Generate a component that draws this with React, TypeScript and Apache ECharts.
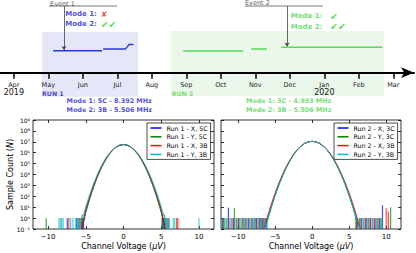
import React, { useEffect, useRef } from 'react';
import * as echarts from 'echarts';

// ---------- timeline data ----------
const months = ['Apr', 'May', 'Jun', 'Jul', 'Aug', 'Sep', 'Oct', 'Nov', 'Dec', 'Jan', 'Feb', 'Mar'];
const yearTicks = [0, 9];
const yearNames = ['2019', '2020'];

// x: months since Apr 2019, y: trace level
const run1TraceA = [[1.14, 22.0], [2.56, 22.0]];
const run1TraceB = [[2.59, 23.7], [3.23, 23.7], [3.28, 25.6], [3.34, 28.2], [3.47, 28.2]];
const run2TraceA = [[4.91, 21.7], [6.65, 21.7]];
const run2TraceB = [[6.88, 23.7], [7.34, 23.7]];
const run2TraceC = [[7.75, 25.4], [10.68, 25.4]];
const run1Span = [0.82, 3.6, 40.7, -24];
const run2Span = [4.56, 10.73, 41.7, -23.3];
const event1Bar = [[1.02, 66.7], [2.99, 66.7]];
const event1Arrow = [[1.455, 66.7], [1.455, 22.8]];
const event2Bar = [[6.7, 66.7], [8.96, 66.7]];
const event2Arrow = [[7.92, 66.7], [7.92, 26.3]];

// ---------- histogram data ----------
const xTickValues = [-10, -5, 0, 5, 10];
const xTickLabels = ['\u221210', '\u22125', '0', '5', '10'];
const yTickLabels = ['10\u207b\u00b9', '10\u2070', '10\u00b9', '10\u00b2', '10\u00b3', '10\u2074', '10\u2075', '10\u2076', '10\u2077', '10\u2078', '10\u2079'];

const run1Names = ['Run 1 - X, 5C', 'Run 1 - Y, 5C', 'Run 1 - X, 3B', 'Run 1 - Y, 3B'];
const run2Names = ['Run 2 - X, 3C', 'Run 2 - Y, 3C', 'Run 2 - X, 3B', 'Run 2 - Y, 3B'];
const colors = ['#0000ff', '#008000', '#ff0000', '#00bfbf'];

const xLeft = [-6, -5.5, -5, -4.5, -4, -3.5, -3, -2.5, -2, -1.5, -1, -0.5, 0, 0.5, 1, 1.5, 2, 2.5, 3, 3.5, 4, 4.5, 5, 5.5, 6];
const run1Blue = [null, 0.1, 5.6, 78, 810, 6500, 3.9e4, 1.8e5, 6.2e5, 1.6e6, 3.2e6, 4.9e6, 5.6e6, 4.9e6, 3.2e6, 1.6e6, 6.2e5, 1.8e5, 3.9e4, 6500, 810, 78, 5.6, 0.1, null];
const run1Green = [null, 0.1, 3.2, 49, 560, 4900, 3.2e4, 1.5e5, 5.6e5, 1.5e6, 3.2e6, 4.9e6, 5.6e6, 4.9e6, 3.2e6, 1.5e6, 5.6e5, 1.5e5, 3.2e4, 4900, 560, 49, 3.2, 0.1, null];
const run1Red = [null, 0.1, 6.3, 85, 870, 6800, 4.1e4, 1.8e5, 6.3e5, 1.6e6, 3.2e6, 4.9e6, 5.6e6, 4.9e6, 3.2e6, 1.6e6, 6.3e5, 1.8e5, 4.1e4, 6800, 870, 85, 6.3, 0.1, null];
const run1Cyan = [0.1, 0.7, 11, 135, 1260, 9100, 5.0e4, 2.1e5, 6.9e5, 1.7e6, 3.3e6, 4.9e6, 5.6e6, 4.9e6, 3.3e6, 1.7e6, 6.9e5, 2.1e5, 5.0e4, 9100, 1260, 135, 11, 0.7, 0.1];

const xRight = [-6.5, -6, -5.5, -5, -4.5, -4, -3.5, -3, -2.5, -2, -1.5, -1, -0.5, 0, 0.5, 1, 1.5, 2, 2.5, 3, 3.5, 4, 4.5, 5, 5.5, 6, 6.5];
const run2Blue = [0.1, 1, 13, 140, 1200, 8100, 4.5e4, 1.9e5, 6.8e5, 1.9e6, 4.1e6, 7.1e6, 1.0e7, 1.1e7, 1.0e7, 7.1e6, 4.1e6, 1.9e6, 6.8e5, 1.9e5, 4.5e4, 8100, 1200, 140, 13, 1, 0.1];
const run2Green = [0.1, 0.7, 10, 110, 1000, 7100, 4.0e4, 1.8e5, 6.3e5, 1.8e6, 4.0e6, 7.1e6, 1.0e7, 1.1e7, 1.0e7, 7.1e6, 4.0e6, 1.8e6, 6.3e5, 1.8e5, 4.0e4, 7100, 1000, 110, 10, 0.7, 0.1];
const run2Red = [0.1, 1.6, 20, 200, 1600, 1.0e4, 5.2e4, 2.2e5, 7.2e5, 1.95e6, 4.2e6, 7.2e6, 1.0e7, 1.1e7, 1.0e7, 7.2e6, 4.2e6, 1.95e6, 7.2e5, 2.2e5, 5.2e4, 1.0e4, 1600, 200, 20, 1.6, 0.1];
const run2Cyan = [0.1, 0.83, 11.5, 126, 1100, 7600, 4.2e4, 1.9e5, 6.5e5, 1.8e6, 4.0e6, 7.1e6, 1.0e7, 1.1e7, 1.0e7, 7.1e6, 4.0e6, 1.8e6, 6.5e5, 1.9e5, 4.2e4, 7600, 1100, 126, 11.5, 0.83, 0.1];

// isolated tail counts [voltage, count]
const run1BlueTail = [[-7.45, 1], [-6.2, 1], [-5.45, 1], [-5.3, 1], [5.2, 1], [5.4, 1], [5.6, 1]];
const run1GreenTail = [[-10.25, 1], [-6.0, 1], [-5.65, 1], [-5.5, 2], [5.1, 1], [5.3, 1], [5.45, 2]];
const run1RedTail = [[-7.25, 1], [-5.85, 1], [-5.55, 1], [5.8, 1], [6.0, 1], [7.05, 1], [7.2, 1]];
const run1CyanTail = [[-8.55, 1], [-8.35, 1], [-8.2, 1], [-8.0, 1], [-7.0, 1], [-6.7, 1], [-6.35, 1], [-6.1, 1], [-5.9, 1], [-5.7, 1], [5.5, 1], [5.7, 1], [5.9, 1], [6.1, 1], [6.6, 1], [6.8, 1], [10.0, 1]];

const run2BlueTail = [[-12.1, 1], [-11.3, 9], [-10.6, 1], [-9.9, 1], [-9.2, 1], [-8.6, 1], [-8.0, 1], [-7.5, 1], [-7.0, 1], [-6.6, 1], [-6.1, 1], [6.1, 1], [6.7, 1], [7.3, 1], [7.9, 1], [8.5, 1], [9.1, 1], [9.5, 15]];
const run2GreenTail = [[-12.0, 1], [-11.6, 1], [-10.5, 8], [-10.2, 1], [-9.6, 1], [-9.0, 1], [-8.4, 1], [-7.8, 1], [-7.3, 1], [-6.8, 1], [-6.4, 1], [5.9, 1], [6.4, 1], [7.0, 1], [7.6, 1], [8.2, 1], [8.8, 1], [9.3, 1], [10.6, 10]];
const run2RedTail = [[-11.9, 1], [-11.1, 1], [-10.8, 1], [-10.0, 1], [-9.4, 1], [-8.8, 1], [-8.2, 1], [-7.6, 1], [-7.1, 1], [-6.7, 1], [-6.3, 1], [6.0, 1], [6.6, 1], [7.2, 1], [7.8, 1], [8.4, 1], [9.0, 1], [10.0, 8], [10.3, 4]];
const run2CyanTail = [[-12.2, 1], [-11.8, 1], [-11.4, 1], [-10.9, 1], [-10.4, 1], [-9.8, 1], [-9.3, 1], [-8.9, 1], [-8.5, 1], [-8.1, 1], [-7.7, 1], [-7.2, 1], [-6.9, 1], [-6.5, 1], [-6.2, 1], [6.2, 1], [6.5, 1], [6.9, 1], [7.5, 1], [8.1, 1], [8.7, 1], [9.2, 1], [9.4, 1]];

const BLUE = '#2020dd';
const GREEN = '#4cd64c';
const CHECK = '#2ad42a';
const FONT = 'DejaVu Sans';

const run1Curves = [run1Blue, run1Green, run1Red, run1Cyan];
const run2Curves = [run2Blue, run2Green, run2Red, run2Cyan];
const run1Tails = [run1BlueTail, run1GreenTail, run1RedTail, run1CyanTail];
const run2Tails = [run2BlueTail, run2GreenTail, run2RedTail, run2CyanTail];

// timeline series use this axis pair (grid 3, Apr..Mar)
const TX = 5;
const TY = 5;

function toPairs(xs: number[], ys: (number | null)[]) {
  const out: number[][] = [];
  xs.forEach((x, i) => {
    const v = ys[i];
    if (v != null) out.push([x, v]);
  });
  return out;
}

function spikeRender(color: string) {
  return (params: any, api: any) => {
    const x = api.value(0);
    const n = api.value(1);
    const top = api.coord([x, n]);
    const bot = api.coord([x, 0.1]);
    return {
      type: 'rect',
      shape: { x: top[0] - 0.6, y: top[1], width: 1.2, height: Math.max(0, bot[1] - top[1]) },
      style: { fill: color, opacity: 0.7 },
    };
  };
}

const spanColors = ['#e5e7f8', '#ebf7ea'];
function spanRender(params: any, api: any) {
  const a = api.coord([api.value(0), api.value(2)]);
  const b = api.coord([api.value(1), api.value(3)]);
  return {
    type: 'rect',
    shape: { x: a[0], y: a[1], width: b[0] - a[0], height: b[1] - a[1] },
    style: { fill: spanColors[params.dataIndex] },
  };
}

const annotRich = {
  e: { fontFamily: FONT, fontSize: 6.5, color: '#222' },
  b: { fontFamily: FONT, fontSize: 7, fontWeight: 'bold', color: BLUE },
  g: { fontFamily: FONT, fontSize: 7, fontWeight: 'bold', color: GREEN },
  bs: { fontFamily: FONT, fontSize: 6.4, fontWeight: 'bold', color: BLUE },
  gs: { fontFamily: FONT, fontSize: 6.4, fontWeight: 'bold', color: GREEN },
  rb: { fontFamily: FONT, fontSize: 6.2, fontWeight: 'bold', color: '#1515c8' },
  rg: { fontFamily: FONT, fontSize: 6.2, fontWeight: 'bold', color: '#55dd44' },
  x: { fontFamily: FONT, fontSize: 8, fontWeight: 'bold', color: '#e82020' },
  c: { fontFamily: FONT, fontSize: 9.5, color: CHECK },
};

const notes = [
  { x: 1.41, y: 69.0, text: '{e|Event 1}', align: 'center' },
  { x: 1.49, y: 58.7, text: '{b|Mode 1:} {x|\u2718}', align: 'left' },
  { x: 1.49, y: 48.7, text: '{b|Mode 2:} {c|\u2714\u2714}', align: 'left' },
  { x: 7.06, y: 69.5, text: '{e|Event 2}', align: 'center' },
  { x: 8.03, y: 56.7, text: '{g|Mode 1:}  {c|\u2714}', align: 'left' },
  { x: 8.03, y: 46.0, text: '{g|Mode 2:}  {c|\u2714\u2714}', align: 'left' },
  { x: 0.82, y: -20.6, text: '{rb|RUN 1}', align: 'left' },
  { x: 4.58, y: -20.3, text: '{rg|RUN 2}', align: 'left' },
  { x: 1.53, y: -28.3, text: '{bs|Mode 1: 5C - 8.392 MHz}', align: 'left' },
  { x: 1.53, y: -37.0, text: '{bs|Mode 2: 3B - 5.506 MHz}', align: 'left' },
  { x: 6.73, y: -28.3, text: '{gs|Mode 1: 3C - 4.993 MHz}', align: 'left' },
  { x: 6.73, y: -37.0, text: '{gs|Mode 2: 3B - 5.506 MHz}', align: 'left' },
];

function histXAxes(gridIndex: number, min: number, max: number) {
  return [
    {
      type: 'value', gridIndex, min, max, position: 'bottom',
      axisLine: { show: false, onZero: false }, splitLine: { show: false },
      axisTick: { inside: true, length: 3, customValues: xTickValues, lineStyle: { color: '#000', width: 0.8 } },
      axisLabel: {
        customValues: xTickValues, fontFamily: FONT, fontSize: 7, color: '#000', margin: 4,
        formatter: (v: number) => xTickLabels[xTickValues.indexOf(v)] ?? '',
      },
      name: '{r|Channel Voltage (}{i|\u03bcV}{r|)}', nameLocation: 'middle', nameGap: 13,
      nameTextStyle: { rich: { r: { fontFamily: FONT, fontSize: 8, color: '#000' }, i: { fontFamily: FONT, fontSize: 8, fontStyle: 'italic', color: '#000' } } },
    },
    {
      type: 'value', gridIndex, min, max, position: 'top',
      axisLine: { show: false, onZero: false }, splitLine: { show: false },
      axisTick: { inside: true, length: 3, customValues: xTickValues, lineStyle: { color: '#000', width: 0.8 } },
      axisLabel: { show: false, customValues: xTickValues },
    },
  ];
}

function histYAxes(gridIndex: number, withLabels: boolean) {
  const main: any = {
    type: 'log', logBase: 10, gridIndex, min: 0.1, max: 1e9, interval: 1, splitNumber: 10, position: 'left',
    axisLine: { show: false, onZero: false }, splitLine: { show: false }, minorTick: { show: false },
    axisTick: { inside: true, length: 3, lineStyle: { color: '#000', width: 0.8 } },
    axisLabel: {
      show: withLabels, fontFamily: FONT, fontSize: 6, color: '#000', margin: 3,
      formatter: (v: number) => yTickLabels[Math.round(Math.log10(v)) + 1] ?? '',
    },
  };
  if (withLabels) {
    main.name = '{r|Sample Count (}{i|N}{r|)}';
    main.nameLocation = 'middle';
    main.nameGap = 19;
    main.nameMoveOverlap = false;
    main.nameRotate = 90;
    main.nameTextStyle = { rich: { r: { fontFamily: FONT, fontSize: 8, color: '#000' }, i: { fontFamily: FONT, fontSize: 8, fontStyle: 'italic', color: '#000' } } };
  }
  return [
    main,
    {
      type: 'log', logBase: 10, gridIndex, min: 0.1, max: 1e9, interval: 1, splitNumber: 10, position: 'right',
      axisLine: { show: false, onZero: false }, splitLine: { show: false },
      axisTick: { inside: true, length: 3, lineStyle: { color: '#000', width: 0.8 } },
      axisLabel: { show: false },
    },
  ];
}

function legendFor(names: string[], left: number) {
  return {
    data: names, orient: 'vertical', left, top: 123, padding: [1, 3, 1, 3.5], itemGap: 0.8,
    itemWidth: 11, itemHeight: 1.5, icon: 'rect', borderColor: '#222', borderWidth: 0.8, backgroundColor: '#fff',
    selectedMode: false,
    textStyle: { fontFamily: FONT, fontSize: 6.3, color: '#000', lineHeight: 8 },
  };
}

function histSeries(names: string[], xs: number[], curves: (number | null)[][], tails: number[][][], xAxisIndex: number, yAxisIndex: number) {
  const out: any[] = [];
  names.forEach((name, i) => {
    out.push({
      type: 'custom', name: name + ' tail', xAxisIndex, yAxisIndex, clip: true, silent: true,
      data: tails[i], renderItem: spikeRender(colors[i]), z: 2,
    });
  });
  names.forEach((name, i) => {
    out.push({
      type: 'line', name, xAxisIndex, yAxisIndex, data: toPairs(xs, curves[i]), showSymbol: false, symbol: 'none',
      color: colors[i], lineStyle: { width: 1, color: colors[i], opacity: 0.85 }, silent: true, clip: true, z: 3,
    });
  });
  return out;
}

export default function App() {
  const ref = useRef<HTMLDivElement>(null);
  useEffect(() => {
    if (!ref.current) return;
    const chart = echarts.init(ref.current, undefined, { renderer: 'svg' });
    const option: any = {
      animation: false,
      backgroundColor: '#fff',
      textStyle: { fontFamily: FONT },
      grid: [
        { left: 0, right: 2, top: 0, height: 72.7 },
        { left: 33, top: 120, width: 181, height: 109, show: true, borderColor: '#000', borderWidth: 0.8, backgroundColor: 'transparent' },
        { left: 221, top: 120, width: 180, height: 109, show: true, borderColor: '#000', borderWidth: 0.8, backgroundColor: 'transparent' },
        { left: 13.8, width: 379.5, top: 0, height: 72.7 },
      ],
      xAxis: [
        {
          type: 'value', gridIndex: 0, min: 0, max: 1, position: 'bottom', z: 10,
          axisLine: { show: true, onZero: false, symbol: ['none', 'arrow'], symbolSize: [8, 13], lineStyle: { color: '#000', width: 2 } },
          axisTick: { show: false }, axisLabel: { show: false }, splitLine: { show: false },
        },
        ...histXAxes(1, -12, 12),
        ...histXAxes(2, -12.3, 12),
        {
          type: 'value', gridIndex: 3, min: 0, max: 11, interval: 1, position: 'bottom', z: 11,
          axisLine: { show: false, onZero: false },
          axisTick: { show: true, length: 6, lineStyle: { color: '#000', width: 1.5 } },
          axisLabel: {
            margin: 8, color: '#222', showMinLabel: true, showMaxLabel: true,
            formatter: (v: number) => {
              const i = Math.round(v);
              const yi = yearTicks.indexOf(i);
              return yi >= 0 ? `{m|${months[i]}}\n{y|${yearNames[yi]}}` : `{m|${months[i]}}`;
            },
            rich: {
              m: { fontFamily: FONT, fontSize: 6.5, lineHeight: 8, color: '#222' },
              y: { fontFamily: FONT, fontSize: 8, lineHeight: 8, color: '#111' },
            },
          },
          splitLine: { show: false },
        },
      ],
      yAxis: [
        { type: 'value', gridIndex: 0, min: 0, max: 72.7, show: false, splitLine: { show: false } },
        ...histYAxes(1, true),
        ...histYAxes(2, false),
        { type: 'value', gridIndex: 3, min: 0, max: 72.7, show: false, splitLine: { show: false } },
      ],
      legend: [legendFor(run1Names, 147), legendFor(run2Names, 334)],
      series: [
        {
          type: 'custom', name: 'spans', xAxisIndex: TX, yAxisIndex: TY, clip: false, silent: true, z: 0,
          data: [run1Span, run2Span], renderItem: spanRender,
        },
        {
          type: 'lines', coordinateSystem: 'cartesian2d', xAxisIndex: TX, yAxisIndex: TY, polyline: true, silent: true, z: 3,
          lineStyle: { color: '#2a3ad0', width: 1.4, opacity: 1 },
          data: [{ coords: run1TraceA }, { coords: run1TraceB }],
        },
        {
          type: 'lines', coordinateSystem: 'cartesian2d', xAxisIndex: TX, yAxisIndex: TY, polyline: true, silent: true, z: 3,
          lineStyle: { color: '#55dd55', width: 1.4, opacity: 1 },
          data: [{ coords: run2TraceA }, { coords: run2TraceB }, { coords: run2TraceC }],
        },
        {
          type: 'lines', coordinateSystem: 'cartesian2d', xAxisIndex: TX, yAxisIndex: TY, polyline: true, silent: true, z: 4,
          lineStyle: { color: '#555', width: 0.8, opacity: 1 }, symbol: ['none', 'none'],
          data: [{ coords: event1Bar }, { coords: event2Bar }],
        },
        {
          type: 'lines', coordinateSystem: 'cartesian2d', xAxisIndex: TX, yAxisIndex: TY, silent: true, z: 4,
          lineStyle: { color: '#444', width: 0.8, opacity: 1 }, symbol: ['none', 'arrow'], symbolSize: 4,
          data: [{ coords: event1Arrow }, { coords: event2Arrow }],
        },
        {
          type: 'scatter', xAxisIndex: TX, yAxisIndex: TY, symbolSize: 0, clip: false, silent: true, z: 5,
          data: notes.map((n) => ({
            value: [n.x, n.y],
            label: { show: true, position: [0, 0], align: n.align, verticalAlign: 'middle', formatter: n.text, rich: annotRich },
          })),
        },
        ...histSeries(run1Names, xLeft, run1Curves, run1Tails, 1, 1),
        ...histSeries(run2Names, xRight, run2Curves, run2Tails, 3, 3),
      ],
    };
    chart.setOption(option);
    return () => chart.dispose();
  }, []);
  return <div ref={ref} style={{ position: 'fixed', left: 0, top: 0, width: 416, height: 253 }} />;
}
